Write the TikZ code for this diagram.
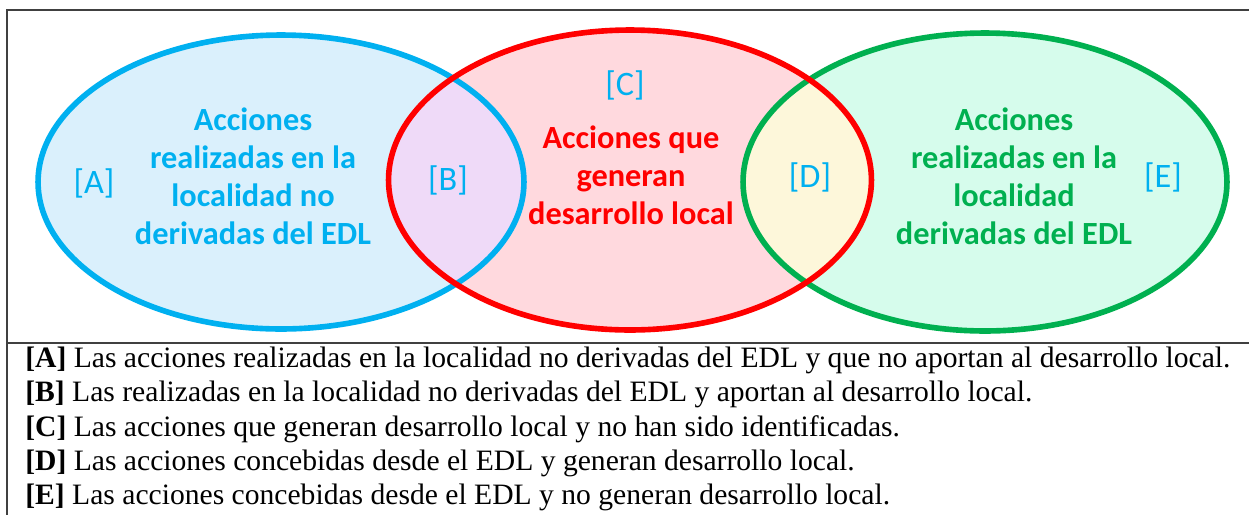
\documentclass[tikz,border=0pt]{standalone}
\usepackage{fontspec}
\setmainfont{Liberation Serif}
\newfontfamily\calib{Carlito}
\usepackage{tikz}
\usetikzlibrary{positioning}
\definecolor{eblue}{HTML}{00B0F0}
\definecolor{ered}{HTML}{FF0000}
\definecolor{egreen}{HTML}{00B050}
\definecolor{fblue}{HTML}{DAF0FC}
\definecolor{fred}{HTML}{FFD9DE}
\definecolor{fgreen}{HTML}{D6FCEC}
\definecolor{fpurple}{HTML}{EFDAF8}
\definecolor{fyellow}{HTML}{FDF7DA}
\tikzset{
  setlbl/.style={font=\calib\bfseries\fontsize{18.4}{21.6}\selectfont, align=center, inner sep=1pt},
  tag/.style={font=\calib\fontsize{19.5}{22}\selectfont, text=eblue, inner sep=1pt},
  legline/.style={anchor=base west, font=\fontsize{16.85}{19.6}\selectfont, inner sep=0pt},
  frame/.style={draw=black!75, line width=1.1pt}
}
\begin{document}
\begin{tikzpicture}[x=0.02cm, y=-0.02cm,
    ring/.style={line width=3.2pt}
  ]
    \useasboundingbox (0,0) rectangle (1249,515);
    % sets
    \def\blueset{(281,182) ellipse [x radius=4.86cm, y radius=2.94cm]}
    \def\redset{(630,180) ellipse [x radius=4.83cm, y radius=3.0cm]}
    \def\greenset{(985,182) ellipse [x radius=4.84cm, y radius=2.98cm]}
    \fill[fblue] \blueset;
    \fill[fgreen] \greenset;
    \fill[fred] \redset;
    \begin{scope}
      \clip \blueset;
      \fill[fpurple] \redset;
    \end{scope}
    \begin{scope}
      \clip \greenset;
      \fill[fyellow] \redset;
    \end{scope}
    \draw[ring, eblue] \blueset;
    \draw[ring, egreen] \greenset;
    \draw[ring, ered] \redset;

    \node[setlbl, text=eblue] (nodeA) at (253,176) {Acciones\\realizadas en la\\localidad no\\derivadas del EDL};
    \node[setlbl, text=ered] (genDL) at (631,175) {Acciones que\\generan\\desarrollo local};
    \node[setlbl, text=egreen] (deEDL) at (1014,176) {Acciones\\realizadas en la\\localidad\\derivadas del EDL};

    \node[tag] (tA) at (94,183) {[A]};
    \node[tag] (tB) at (448,180) {[B]};
    \node[tag] (tC) at (625,85) {[C]};
    \node[tag] (tD) at (810,177) {[D]};
    \node[tag] (tE) at (1163,177) {[E]};

    % frame
    \coordinate (tl) at (7,10);
    \coordinate (tr) at (1249,10);
    \coordinate (ml) at (7,343);
    \coordinate (mr) at (1249,343);
    \coordinate (bl) at (7,515);
    \draw[frame] (tr) -- (tl) -- (bl);
    \draw[frame] (ml) -- (mr);

    % legend
    \node[legline] (lA) at (25,367) {\textbf{[A]} Las acciones realizadas en la localidad no derivadas del EDL y que no aportan al desarrollo local.};
    \node[legline] (lB) at (25,401) {\textbf{[B]} Las realizadas en la localidad no derivadas del EDL y aportan al desarrollo local.};
    \node[legline] (lC) at (25,436) {\textbf{[C]} Las acciones que generan desarrollo local y no han sido identificadas.};
    \node[legline] (lD) at (25,470) {\textbf{[D]} Las acciones concebidas desde el EDL y generan desarrollo local.};
    \node[legline] (lE) at (25,504) {\textbf{[E]} Las acciones concebidas desde el EDL y no generan desarrollo local.};
  \end{tikzpicture}
\end{document}
